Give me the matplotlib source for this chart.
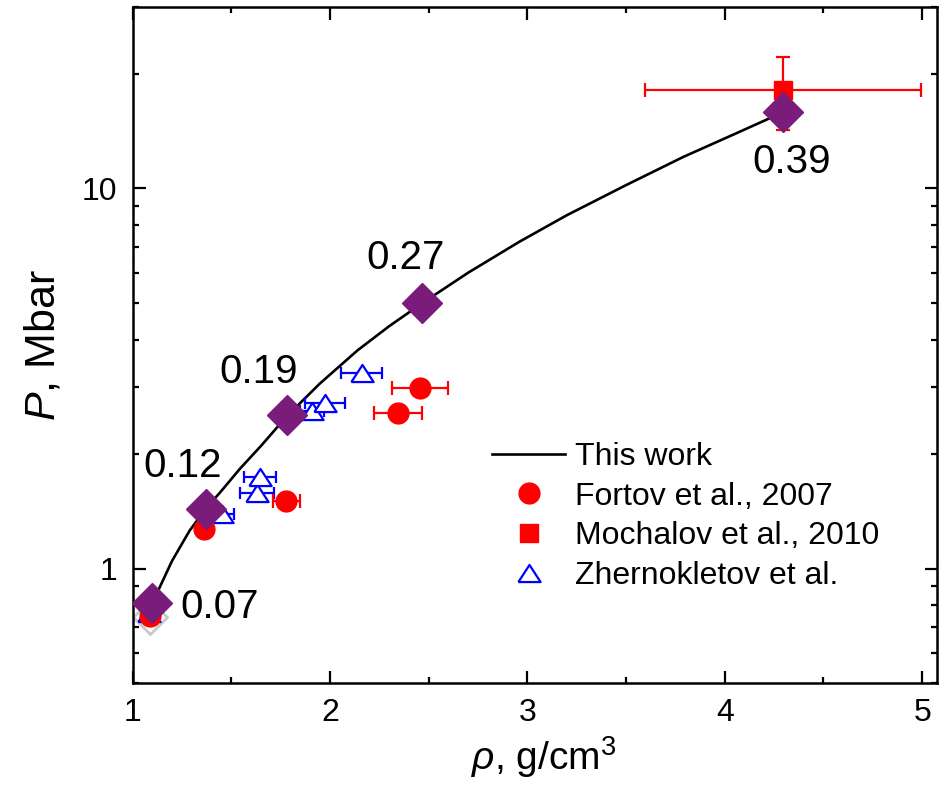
import matplotlib
matplotlib.use("Agg")
import matplotlib.pyplot as plt
from matplotlib.ticker import LogLocator, MultipleLocator, FixedLocator, NullFormatter

plt.rcParams['font.family'] = ['Liberation Sans', 'DejaVu Sans']
plt.rcParams['mathtext.fontset'] = 'custom'
plt.rcParams['mathtext.rm'] = 'Liberation Sans'
plt.rcParams['mathtext.it'] = 'Liberation Sans:italic'

# ---- data ----
curve_rho = [1.09, 1.13, 1.20, 1.29, 1.372, 1.45, 1.544, 1.65, 1.78, 1.95, 2.14, 2.30,
             2.465, 2.70, 2.96, 3.20, 3.50, 3.79, 4.05, 4.294]
curve_P = [0.80, 0.875, 1.047, 1.26, 1.438, 1.60, 1.83, 2.10, 2.51, 3.07, 3.75, 4.34,
           4.98, 6.0, 7.24, 8.5, 10.2, 12.1, 13.9, 15.85]

calc_rho = [1.099, 1.372, 1.782, 2.465, 4.294]
calc_P = [0.814, 1.438, 2.53, 4.98, 15.85]
calc_labels = ['0.07', '0.12', '0.19', '0.27', '0.39']

fortov_rho = [1.09, 1.36, 1.78, 2.345, 2.456]
fortov_P = [0.75, 1.27, 1.51, 2.57, 2.99]
fortov_xerr = [0.02, 0.02, 0.07, 0.12, 0.14]

mochalov_rho = [4.295]
mochalov_P = [18.2]
mochalov_xerr = [0.70]
mochalov_yerr = [4.0]

zh_rho = [1.085, 1.455, 1.63, 1.646, 1.91, 1.975, 2.16]
zh_P = [0.765, 1.395, 1.58, 1.74, 2.60, 2.72, 3.26]
zh_xerr = [0.02, 0.06, 0.085, 0.08, 0.06, 0.1, 0.105]

grey_rho = [1.09]
grey_P = [0.745]

# ---- figure ----
fig = plt.figure(figsize=(9.42, 7.89), dpi=100)
ax = fig.add_axes([132.5 / 942, 1 - 683 / 789, (937 - 132.5) / 942, (683 - 7) / 789])

purple = '#7A1C7A'
tri = [(-1, -0.77), (1, -0.77), (0, 0.77), (-1, -0.77)]

line_curve, = ax.plot(curve_rho, curve_P, color='black', lw=1.9, zorder=3)

ax.plot(grey_rho, grey_P, ls='none', marker='D', ms=17, mfc='none', mec='#C8C8C8', mew=2, zorder=2)

ax.errorbar(zh_rho, zh_P, xerr=zh_xerr, fmt='none', ecolor='blue', elinewidth=1.6,
            capsize=4.5, capthick=1.6, zorder=4)
zh_h, = ax.plot(zh_rho, zh_P, ls='none', marker=tri, ms=16, mfc='white', mec='blue', mew=1.6, zorder=4)

ax.errorbar(fortov_rho, fortov_P, xerr=fortov_xerr, fmt='none', ecolor='red', elinewidth=1.6,
            capsize=5.2, capthick=1.6, zorder=4)
fo_h, = ax.plot(fortov_rho, fortov_P, ls='none', marker='o', ms=15, mfc='red', mec='red', zorder=4)

ax.errorbar(mochalov_rho, mochalov_P, xerr=mochalov_xerr, yerr=mochalov_yerr, fmt='none',
            ecolor='red', elinewidth=1.6, capsize=5, capthick=1.6, zorder=4)
mo_h, = ax.plot(mochalov_rho, mochalov_P, ls='none', marker='s', ms=13.5, mfc='red', mec='red', zorder=4)

ax.plot(calc_rho, calc_P, ls='none', marker='D', ms=20, mfc=purple, mec=purple, zorder=6)

label_offsets = [(49, -11), (-17, 23), (-20.5, 23), (-11.5, 25), (6, -44)]
for r, p, t, off in zip(calc_rho, calc_P, calc_labels, label_offsets):
    ax.annotate(t, (r, p), xytext=off, textcoords='offset points', ha='center', va='baseline',
                fontsize=29, zorder=7)

ax.set_xlim(1.0, 5.075)
ax.set_ylim(0.5, 30)
ax.set_yscale('log')

ax.xaxis.set_major_locator(MultipleLocator(1))
ax.xaxis.set_minor_locator(MultipleLocator(0.5))
ax.yaxis.set_major_locator(FixedLocator([1, 10]))
ax.yaxis.set_minor_locator(LogLocator(base=10, subs=range(2, 10)))
ax.yaxis.set_minor_formatter(NullFormatter())
ax.set_yticklabels(['1', '10'])

ax.tick_params(which='both', direction='in', top=True, right=True, width=1.6, labelsize=23, pad=11)
ax.tick_params(which='major', length=9)
ax.tick_params(which='minor', length=4.5)
for s in ax.spines.values():
    s.set_linewidth(1.8)

ax.set_xlabel(r'$\rho$, g/cm$^3$', fontsize=28, labelpad=9)
ax.xaxis.set_label_coords(0.5115, -0.075, transform=ax.transAxes)
ax.xaxis.label.set_va('top')
ax.set_ylabel(r'$P$, Mbar', fontsize=31, labelpad=13)

leg = ax.legend([line_curve, fo_h, mo_h, zh_h],
                ['This work', 'Fortov et al., 2007', 'Mochalov et al., 2010', 'Zhernokletov et al.'],
                loc='upper left', bbox_to_anchor=((492 - 132.5) / 804.5, (683 - 442) / 676),
                frameon=False, fontsize=23, handlelength=2.3, handletextpad=0.3,
                labelspacing=0.3, borderpad=0, borderaxespad=0)

fig.savefig('out.png', dpi=100)
